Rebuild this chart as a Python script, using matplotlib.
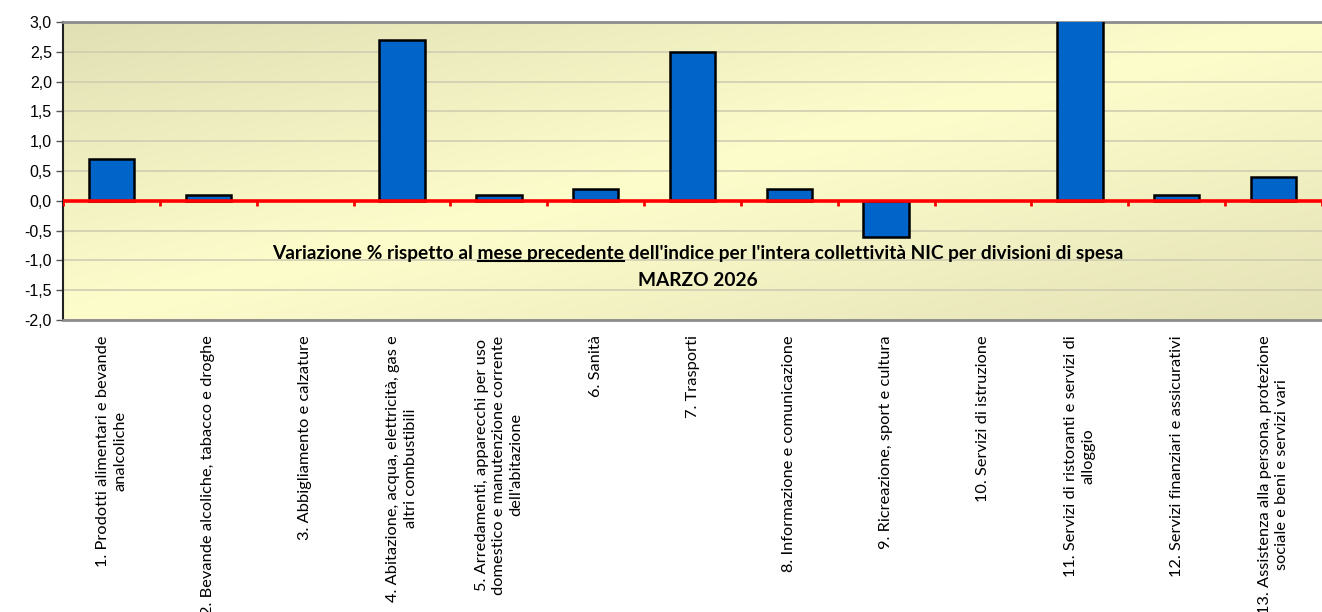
import numpy as np
import matplotlib
matplotlib.use("Agg")
import matplotlib.pyplot as plt
from matplotlib.colors import LinearSegmentedColormap

# Divisioni di spesa (etichette asse x)
categorie = [
    "1. Prodotti alimentari e bevande\nanalcoliche",
    "2. Bevande alcoliche, tabacco e droghe",
    "3. Abbigliamento e calzature",
    "4. Abitazione, acqua, elettricità, gas e\naltri combustibili",
    "5. Arredamenti, apparecchi per uso\ndomestico e manutenzione corrente\ndell'abitazione",
    "6. Sanità",
    "7. Trasporti",
    "8. Informazione e comunicazione",
    "9. Ricreazione, sport e cultura",
    "10. Servizi di istruzione",
    "11. Servizi di ristoranti e servizi di\nalloggio",
    "12. Servizi finanziari e assicurativi",
    "13. Assistenza alla persona, protezione\nsociale e beni e servizi vari",
]

# Variazione % rispetto al mese precedente
variazioni = [0.7, 0.1, 0.0, 2.7, 0.1, 0.2, 2.5, 0.2, -0.6, 0.0, 3.2, 0.1, 0.4]

y_ticks = [-2.0, -1.5, -1.0, -0.5, 0.0, 0.5, 1.0, 1.5, 2.0, 2.5, 3.0]

titolo_pre = "Variazione % rispetto al "
titolo_sott = "mese precedente"
titolo_post = " dell'indice per l'intera collettività NIC per divisioni di spesa"
titolo_2 = "MARZO 2026"

W, H = 1322, 612
fig = plt.figure(figsize=(W / 100, H / 100), dpi=100)
ax = fig.add_axes([63 / W, (H - 320) / H, (W - 63) / W, (320 - 22) / H])

x = np.arange(len(categorie))

# sfondo sfumato (diagonale: scuro in alto a sinistra e in basso a destra)
cmap = LinearSegmentedColormap.from_list("bg", ["#E1E0B5", "#FDFDCC", "#E4E2B7"])
u, v = np.meshgrid(np.linspace(0, 1, 300), np.linspace(0, 1, 100))
grad = ((u + v) / 2.0)[::-1]
ax.imshow(grad, cmap=cmap, aspect="auto", origin="lower", zorder=0,
          extent=(-0.5, len(x) - 0.5, -2.0, 3.0))

ax.set_xlim(-0.5, len(x) - 0.5)
ax.set_ylim(-2.0, 3.0)

ax.set_yticks(y_ticks)
ax.set_yticklabels([f"{t:.1f}".replace(".", ",") for t in y_ticks],
                   fontfamily="Liberation Sans", fontsize=11.5)
ax.yaxis.grid(True, color="#CFCDB0", linewidth=1.2, zorder=1)
ax.tick_params(axis="y", length=5, width=1, color="#555555", pad=3)

bordo = [0 if v == 0 else 1.8 for v in variazioni]
ax.bar(x, variazioni, width=0.47, color="#0064C8", edgecolor="black",
       linewidth=bordo, zorder=3)

# linea dello zero con tacche rosse ai confini delle categorie
ax.axhline(0, color="#FF0000", linewidth=2.6, zorder=4)
bordi = np.arange(len(x) + 1) - 0.5
ax.vlines(bordi, -0.09, 0, color="#FF0000", linewidth=2, zorder=4)

ax.set_xticks(x)
ax.set_xticklabels(categorie, rotation=90, fontfamily="Lato", fontsize=11.8,
                   ha="center", va="top", multialignment="center",
                   linespacing=1.3)
ax.tick_params(axis="x", length=0, pad=11)

for s in ["top", "bottom"]:
    ax.spines[s].set_color("#8C8C8C")
    ax.spines[s].set_linewidth(2)
ax.spines["left"].set_color("#222222")
ax.spines["left"].set_linewidth(1.5)
ax.spines["right"].set_visible(False)

# titolo dentro il grafico, con sottolineatura
fs_t = 13.8
riga1 = titolo_pre + titolo_sott + titolo_post
cx = 698 / W
t1 = fig.text(cx, (H - 254) / H, riga1, ha="center", va="center",
              fontfamily="Lato", fontweight="bold", fontsize=fs_t, zorder=10)
fig.text(cx, (H - 281) / H, titolo_2, ha="center", va="center",
         fontfamily="Lato", fontweight="bold", fontsize=fs_t, zorder=10)

fig.canvas.draw()
r = fig.canvas.get_renderer()
bb = t1.get_window_extent(r)
tmp = fig.text(0, 0, titolo_pre + titolo_sott, fontfamily="Lato",
               fontweight="bold", fontsize=fs_t)
w_a = tmp.get_window_extent(r).width
tmp.set_text(titolo_sott)
w_b = tmp.get_window_extent(r).width
tmp.remove()
x1 = (bb.x0 + w_a - w_b) / W
x2 = (bb.x0 + w_a) / W
yu = (bb.y0 + 2) / H
fig.add_artist(plt.Line2D([x1, x2], [yu, yu], color="black", linewidth=1.5,
                          transform=fig.transFigure))

fig.savefig("out.png", dpi=100)
